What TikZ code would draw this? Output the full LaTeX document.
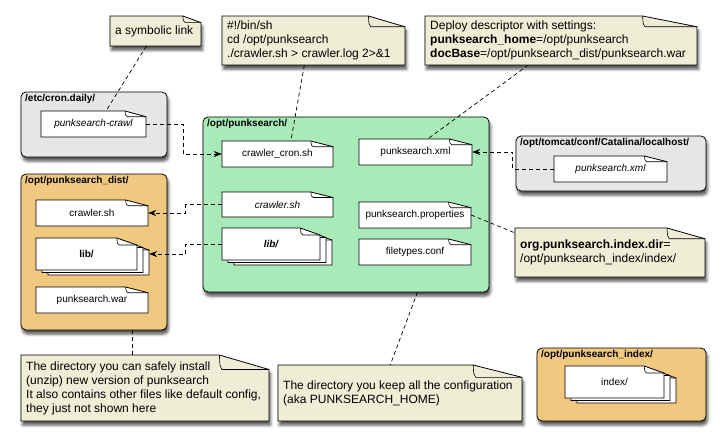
\documentclass[tikz,border=0pt]{standalone}
\usepackage{fontspec}
\setmainfont{Liberation Sans}
\usetikzlibrary{arrows.meta,calc,shadows.blur}

\definecolor{notebg}{RGB}{239,237,213}
\definecolor{homebg}{RGB}{168,234,184}
\definecolor{distbg}{RGB}{240,200,128}
\definecolor{sysbg}{RGB}{230,230,230}

\tikzset{
  outline/.style={draw=black, line width=0.8pt},
  softshadow/.style={blur shadow={shadow xshift=1.5pt, shadow yshift=-4pt,
      shadow blur radius=3pt, shadow opacity=70}},
  notesheet/.style={outline, fill=notebg, softshadow},
  filesheet/.style={outline, fill=white},
  foldline/.style={draw=black, line width=0.6pt},
  notetext/.style={font=\fontsize{12}{14}\selectfont, align=left,
      inner sep=0pt, anchor=west},
  filetext/.style={font=\fontsize{10}{12}\selectfont, inner sep=0pt, align=center},
  dirlabel/.style={font=\bfseries\fontsize{10}{12}\selectfont, inner sep=0pt,
      anchor=base west},
  dirframe/.style={outline, rounded corners=5pt, softshadow},
  dashlink/.style={draw=black, line width=0.7pt, dash pattern=on 4pt off 3pt},
  dasharrow/.style={dashlink, -{Stealth[length=8pt,width=6pt]}}
}

% dog-eared sheet: style, x1, y1, x2, y2
\newcommand\sheet[5]{%
  \pgfmathsetmacro\shXa{#2}\pgfmathsetmacro\shYa{#3}%
  \pgfmathsetmacro\shXb{#4}\pgfmathsetmacro\shYb{#5}%
  \pgfmathsetmacro\shFW{0.2*(\shXb-\shXa)}%
  \pgfmathsetmacro\shFD{0.22*(\shYb-\shYa)}%
  \path[#1] (\shXa,\shYa) -- (\shXb-\shFW,\shYa) -- (\shXb,\shYa+\shFD)
    -- (\shXb,\shYb) -- (\shXa,\shYb) -- cycle;
  \draw[foldline] (\shXb-\shFW,\shYa)
    .. controls (\shXb-\shFW+0.5,\shYa+0.8*\shFD) .. (\shXb-\shFW+2.5,\shYa+\shFD)
    -- (\shXb,\shYa+\shFD);
}

% note: name, x1, y1, x2, y2, text
\newcommand\notebox[6]{%
  \sheet{notesheet}{#2}{#3}{#4}{#5}%
  \pgfmathsetmacro\nbW{#4-#2}\pgfmathsetmacro\nbH{#5-#3}%
  \node[inner sep=0pt, outer sep=0pt, minimum width=\nbW pt, minimum height=\nbH pt]
    (#1) at ({(#2+#4)/2},{(#3+#5)/2}) {};
  \node[notetext] at ({#2+5},{(#3+#5)/2}) {#6};
}

% file: name, x1, y1, x2, y2, font switch, text
\newcommand\filebox[7]{%
  \sheet{filesheet}{#2}{#3}{#4}{#5}%
  \pgfmathsetmacro\fbW{#4-#2}\pgfmathsetmacro\fbH{#5-#3}%
  \node[filetext, minimum width=\fbW pt, minimum height=\fbH pt]
    (#1) at ({(#2+#4)/2},{(#3+#5)/2}) {#6#7};
}

% stack of files (a directory): same arguments as \filebox
\newcommand\stackbox[7]{%
  \sheet{filesheet}{#2+12}{#3+5}{#4+12}{#5+5}%
  \sheet{filesheet}{#2+6}{#3+2.5}{#4+6}{#5+2.5}%
  \filebox{#1}{#2}{#3}{#4}{#5}{#6}{#7}%
}

% directory frame: name, x1, y1, x2, y2, fill, label
\newcommand\dirbox[7]{%
  \path[dirframe, fill=#6] (#2,#3) rectangle (#4,#5);
  \pgfmathsetmacro\dbW{#4-#2}\pgfmathsetmacro\dbH{#5-#3}%
  \node[inner sep=0pt, outer sep=0pt, minimum width=\dbW pt, minimum height=\dbH pt]
    (#1) at ({(#2+#4)/2},{(#3+#5)/2}) {};
  \node[dirlabel] at (#2+4,#3+9.5) {#7};
}

\begin{document}
\begin{tikzpicture}[x=1pt,y=-1pt]
\useasboundingbox (0,0) rectangle (725,445);

% directories
\dirbox{crond}{21}{92}{167}{157}{sysbg}{/etc/cron.daily/}
\dirbox{home}{203}{117}{489}{292}{homebg}{/opt/punksearch/}
\dirbox{tomcat}{516}{136}{706}{191}{sysbg}{/opt/tomcat/conf/Catalina/localhost/}
\dirbox{dist}{21}{174}{167}{330}{distbg}{/opt/punksearch\_dist/}
\dirbox{idx}{537}{348}{706}{421}{distbg}{/opt/punksearch\_index/}

% files
\filebox{pcrawl}{41}{111}{146}{137}{\itshape}{punksearch-crawl}
\filebox{cron}{222}{141}{333}{167}{}{crawler\_cron.sh}
\filebox{gxml}{359}{139}{472}{165}{}{punksearch.xml}
\filebox{gcrawl}{222}{192}{333}{217}{\itshape}{crawler.sh}
\stackbox{glib}{222}{228}{320}{260}{\bfseries\itshape}{lib/}
\filebox{props}{359}{202}{471}{228}{}{punksearch.properties}
\filebox{ftypes}{359}{239}{471}{265}{}{filetypes.conf}
\filebox{txml}{554}{156}{667}{182}{\itshape}{punksearch.xml}
\filebox{dcrawl}{36}{200}{148}{226}{}{crawler.sh}
\stackbox{dlib}{36}{238}{137}{270}{\bfseries}{lib/}
\filebox{dwar}{36}{287}{148}{313}{}{punksearch.war}
\stackbox{idxdir}{565}{366}{664}{398}{}{index/}

% notes
\notebox{linknote}{110}{16}{201}{46}{a symbolic link}
\notebox{shnote}{222}{16}{405}{65}{\#!/bin/sh\\cd /opt/punksearch\\./crawler.sh > crawler.log 2>\&1}
\notebox{deploynote}{425}{16}{697}{65}{Deploy descriptor with settings:\\
  \textbf{punksearch\_home}=/opt/punksearch\\
  \textbf{docBase}=/opt/punksearch\_dist/punksearch.war}
\notebox{propnote}{515}{228}{705}{277}{\textbf{org.punksearch.index.dir}=\\/opt/punksearch\_index/index/}
\notebox{distnote}{21}{355}{269}{421}{The directory you can safely install\\
  (unzip) new version of punksearch\\
  It also contains other files like default config,\\
  they just not shown here}
\notebox{homenote}{278}{365}{522}{421}{The directory you keep all the configuration\\(aka PUNKSEARCH\_HOME)}

% comment links
\draw[dashlink] ($(linknote.south west)!0.4!(linknote.south east)$)
  -- ($(pcrawl.north west)!0.62!(pcrawl.north east)$);
\draw[dashlink] ($(shnote.south west)!0.45!(shnote.south east)$)
  -- ($(cron.north west)!0.62!(cron.north east)$);
\draw[dashlink] ($(deploynote.south west)!0.38!(deploynote.south east)$)
  -- ($(gxml.north west)!0.61!(gxml.north east)$);
\draw[dashlink] (props.east)
  -- ($(propnote.north west)!0.1!(propnote.south west)$);
\coordinate (distfoot) at ($(dist.south west)!0.76!(dist.south east)$);
\draw[dashlink] (distfoot) -- (distfoot |- distnote.north);
\draw[dashlink] ($(home.south west)!0.75!(home.south east)$)
  -- ($(homenote.north west)!0.46!(homenote.north east)$);

% file references
\draw[dasharrow] (pcrawl.east) -- ++(37,0) |- (cron.west);
\draw[dasharrow] (txml.west) -- ++(-41,0) |- (gxml.east);
\draw[dasharrow] (gcrawl.west) -- ++(-36,0) |- (dcrawl.east);
\draw[dasharrow] (glib.west) -- ++(-36,0) |- ($(dlib.east)+(12,0)$);
\end{tikzpicture}
\end{document}
